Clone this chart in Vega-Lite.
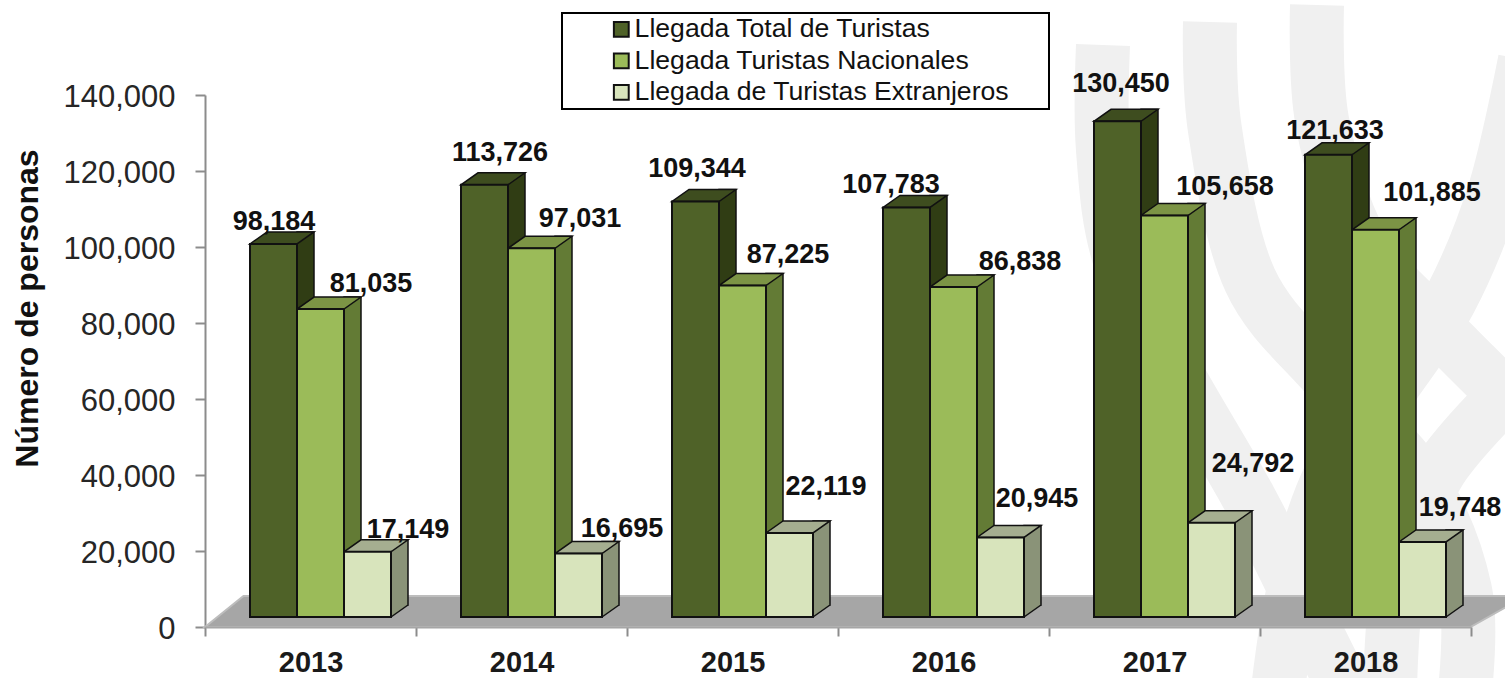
{
"$schema":"https://vega.github.io/schema/vega-lite/v6.json",
"width":1266,"height":532,
"autosize":{"type":"none"},
"padding":{"left":205,"top":95,"right":34,"bottom":51},
"background":"white",
"config":{"view":{"stroke":null},"font":"Liberation Sans","legend":{"strokeWidth":2}},
"datasets":{
"bars":[
{"year":"2013","serie":"Llegada Total de Turistas","value":98184},
{"year":"2013","serie":"Llegada  Turistas Nacionales","value":81035},
{"year":"2013","serie":"Llegada de Turistas Extranjeros","value":17149},
{"year":"2014","serie":"Llegada Total de Turistas","value":113726},
{"year":"2014","serie":"Llegada  Turistas Nacionales","value":97031},
{"year":"2014","serie":"Llegada de Turistas Extranjeros","value":16695},
{"year":"2015","serie":"Llegada Total de Turistas","value":109344},
{"year":"2015","serie":"Llegada  Turistas Nacionales","value":87225},
{"year":"2015","serie":"Llegada de Turistas Extranjeros","value":22119},
{"year":"2016","serie":"Llegada Total de Turistas","value":107783},
{"year":"2016","serie":"Llegada  Turistas Nacionales","value":86838},
{"year":"2016","serie":"Llegada de Turistas Extranjeros","value":20945},
{"year":"2017","serie":"Llegada Total de Turistas","value":130450},
{"year":"2017","serie":"Llegada  Turistas Nacionales","value":105658},
{"year":"2017","serie":"Llegada de Turistas Extranjeros","value":24792},
{"year":"2018","serie":"Llegada Total de Turistas","value":121633},
{"year":"2018","serie":"Llegada  Turistas Nacionales","value":101885},
{"year":"2018","serie":"Llegada de Turistas Extranjeros","value":19748}
],
"ribbons":[
{"r":"a","i":1,"px":1103,"py":45},{"r":"a","i":2,"px":1103,"py":150},{"r":"a","i":3,"px":1120,"py":260},{"r":"a","i":4,"px":1175,"py":370},{"r":"a","i":5,"px":1250,"py":500},{"r":"a","i":6,"px":1310,"py":620},{"r":"a","i":7,"px":1345,"py":690},
{"r":"b","i":1,"px":1210,"py":22},{"r":"b","i":2,"px":1215,"py":130},{"r":"b","i":3,"px":1250,"py":280},{"r":"b","i":4,"px":1330,"py":380},{"r":"b","i":5,"px":1420,"py":480},{"r":"b","i":6,"px":1465,"py":590},{"r":"b","i":7,"px":1465,"py":690},
{"r":"c","i":1,"px":1317,"py":5},{"r":"c","i":2,"px":1322,"py":120},{"r":"c","i":3,"px":1360,"py":240},{"r":"c","i":4,"px":1430,"py":320},{"r":"c","i":5,"px":1520,"py":410},
{"r":"d","i":1,"px":1525,"py":60},{"r":"d","i":2,"px":1495,"py":190},{"r":"d","i":3,"px":1450,"py":300},{"r":"d","i":4,"px":1390,"py":390},{"r":"d","i":5,"px":1330,"py":476},{"r":"d","i":6,"px":1295,"py":584},{"r":"d","i":7,"px":1278,"py":690},
{"r":"e","i":1,"px":1520,"py":380},{"r":"e","i":2,"px":1440,"py":470},{"r":"e","i":3,"px":1400,"py":570},{"r":"e","i":4,"px":1390,"py":690}
]},
"resolve":{"scale":{"x":"independent","y":"independent"}},
"layer":[
{"data":{"name":"ribbons"},
 "mark":{"type":"line","interpolate":"cardinal","stroke":"#f0f0f0","strokeWidth":54,"strokeCap":"butt","clip":false},
 "encoding":{
  "x":{"field":"px","type":"quantitative","axis":null,"scale":{"domain":[205,1471],"nice":false,"zero":false}},
  "y":{"field":"py","type":"quantitative","axis":null,"scale":{"domain":[627,95],"nice":false,"zero":false}},
  "detail":{"field":"r"},
  "order":{"field":"i","type":"quantitative"}}},
{"data":{"name":"bars"},
 "encoding":{
  "x":{"field":"year","type":"nominal","title":null,
   "scale":{"paddingInner":0,"paddingOuter":0},
   "axis":{"zindex":1,"labelAngle":0,"labelFontSize":29,"labelFontWeight":"bold","labelColor":"#1a1a1a","labelPadding":12,"tickBand":"extent","tickSize":9,"tickColor":"#8c8c8c","tickWidth":2,"domainColor":"#a6a6a6","domainWidth":2,"grid":false,"labelOverlap":false,"labelBound":false,"labelFlush":false}},
  "y":{"field":"value","type":"quantitative","scale":{"domain":[0,140000],"nice":false},"title":"Número de personas",
   "axis":{"values":[0,20000,40000,60000,80000,100000,120000,140000],"format":",d","labelFontSize":31,"labelColor":"#262626","labelPadding":20,"labelOffset":2,"tickSize":10,"tickColor":"#8c8c8c","tickWidth":2,"domainColor":"#8c8c8c","domainWidth":2,"grid":false,"titleFontSize":32,"titleFontWeight":"bold","titleColor":"#111111","titleX":-178,"titleY":213,"titleAngle":-90,"titleAlign":"center","titleBaseline":"middle"}}
 },
 "layer":[
  {"transform":[{"filter":"datum.year=='2013' && datum.serie=='Llegada Total de Turistas'"}],
   "mark":{"type":"point","filled":true,"size":4,"shape":"M-105.5,0L-67,-31L1215,-31L1160,0Z","fill":"#a6a6a6","stroke":"#bdbdbd","strokeWidth":2,"opacity":1},
   "encoding":{"y":{"datum":0}}},

  {"transform":[{"filter":"datum.serie=='Llegada Total de Turistas'"}],"mark":{"type":"bar","width":17,"xOffset":-5,"yOffset":-22,"fill":"#303d14","stroke":"#111","strokeWidth":1.5}},
  {"transform":[{"filter":"datum.serie=='Llegada  Turistas Nacionales'"}],"mark":{"type":"bar","width":17,"xOffset":42,"yOffset":-22,"fill":"#637b35","stroke":"#111","strokeWidth":1.5}},
  {"transform":[{"filter":"datum.serie=='Llegada de Turistas Extranjeros'"}],"mark":{"type":"bar","width":17,"xOffset":89,"yOffset":-22,"fill":"#8a9378","stroke":"#111","strokeWidth":1.5}},

  {"transform":[{"filter":"datum.serie=='Llegada Total de Turistas'"}],"mark":{"type":"point","filled":true,"size":4,"shape":"M-23.5,0L23.5,0L40.5,-12L-6.5,-12Z","xOffset":-37,"yOffset":-10,"fill":"#3e4d1f","stroke":"#111","strokeWidth":1.5,"opacity":1}},
  {"transform":[{"filter":"datum.serie=='Llegada  Turistas Nacionales'"}],"mark":{"type":"point","filled":true,"size":4,"shape":"M-23.5,0L23.5,0L40.5,-12L-6.5,-12Z","xOffset":10,"yOffset":-10,"fill":"#7c9445","stroke":"#111","strokeWidth":1.5,"opacity":1}},
  {"transform":[{"filter":"datum.serie=='Llegada de Turistas Extranjeros'"}],"mark":{"type":"point","filled":true,"size":4,"shape":"M-23.5,0L23.5,0L40.5,-12L-6.5,-12Z","xOffset":57,"yOffset":-10,"fill":"#a5ae90","stroke":"#111","strokeWidth":1.5,"opacity":1}},

  {"transform":[{"filter":"datum.serie=='Llegada de Turistas Extranjeros'"}],"mark":{"type":"point","filled":true,"size":4,"shape":"M23.5,0L39.8,-11.5L39.8,-13L23.5,-13Z","xOffset":57,"yOffset":-10,"fill":"#8a9378","strokeWidth":0,"opacity":1},"encoding":{"y":{"datum":0}}},
  {"transform":[{"filter":"datum.serie=='Llegada de Turistas Extranjeros'"}],"mark":{"type":"point","filled":false,"size":4,"shape":"M23.5,0L40.5,-12","xOffset":57,"yOffset":-10,"stroke":"#111","strokeWidth":1.5,"opacity":1},"encoding":{"y":{"datum":0}}},

  {"transform":[{"filter":"datum.serie=='Llegada Total de Turistas'"}],"mark":{"type":"bar","width":47,"xOffset":-37,"yOffset":-10,"stroke":"#111","strokeWidth":2},
   "encoding":{"fill":{"field":"serie","type":"nominal","scale":{"domain":["Llegada Total de Turistas","Llegada  Turistas Nacionales","Llegada de Turistas Extranjeros"],"range":["#4f6228","#9bbb59","#d8e4bc"]},
    "legend":{"title":" ","titleOrient":"right","titlePadding":37,"titleOpacity":0,"orient":"none","legendX":357,"legendY":-82,"direction":"vertical","padding":3,"fillColor":"white","strokeColor":"black","symbolType":"square","symbolSize":220,"symbolStrokeColor":"#111","symbolStrokeWidth":2,"symbolOffset":43,"labelFontSize":26.6,"labelColor":"#111","labelLimit":500,"labelOffset":0,"rowPadding":4.5}}}},
  {"transform":[{"filter":"datum.serie=='Llegada  Turistas Nacionales'"}],"mark":{"type":"bar","width":47,"xOffset":10,"yOffset":-10,"stroke":"#111","strokeWidth":2},
   "encoding":{"fill":{"field":"serie","type":"nominal"}}},
  {"transform":[{"filter":"datum.serie=='Llegada de Turistas Extranjeros'"}],"mark":{"type":"bar","width":47,"xOffset":57,"yOffset":-10,"stroke":"#111","strokeWidth":2},
   "encoding":{"fill":{"field":"serie","type":"nominal"}}},

  {"transform":[{"filter":"datum.value==98184"}],"mark":{"type":"text","text":"98,184","fontSize":27,"fontWeight":"bold","dx":-36.5,"dy":-32,"fill":"#111"}},
  {"transform":[{"filter":"datum.value==81035"}],"mark":{"type":"text","text":"81,035","fontSize":27,"fontWeight":"bold","dx":60.5,"dy":-35,"fill":"#111"}},
  {"transform":[{"filter":"datum.value==17149"}],"mark":{"type":"text","text":"17,149","fontSize":27,"fontWeight":"bold","dx":97.5,"dy":-32,"fill":"#111"}},
  {"transform":[{"filter":"datum.value==113726"}],"mark":{"type":"text","text":"113,726","fontSize":27,"fontWeight":"bold","dx":-21.5,"dy":-42,"fill":"#111"}},
  {"transform":[{"filter":"datum.value==97031"}],"mark":{"type":"text","text":"97,031","fontSize":27,"fontWeight":"bold","dx":58.5,"dy":-39,"fill":"#111"}},
  {"transform":[{"filter":"datum.value==16695"}],"mark":{"type":"text","text":"16,695","fontSize":27,"fontWeight":"bold","dx":100.5,"dy":-35,"fill":"#111"}},
  {"transform":[{"filter":"datum.value==109344"}],"mark":{"type":"text","text":"109,344","fontSize":27,"fontWeight":"bold","dx":-35.5,"dy":-42.5,"fill":"#111"}},
  {"transform":[{"filter":"datum.value==87225"}],"mark":{"type":"text","text":"87,225","fontSize":27,"fontWeight":"bold","dx":55.5,"dy":-40.5,"fill":"#111"}},
  {"transform":[{"filter":"datum.value==22119"}],"mark":{"type":"text","text":"22,119","fontSize":27,"fontWeight":"bold","dx":93.5,"dy":-56,"fill":"#111"}},
  {"transform":[{"filter":"datum.value==107783"}],"mark":{"type":"text","text":"107,783","fontSize":27,"fontWeight":"bold","dx":-52.5,"dy":-32.4,"fill":"#111"}},
  {"transform":[{"filter":"datum.value==86838"}],"mark":{"type":"text","text":"86,838","fontSize":27,"fontWeight":"bold","dx":76.5,"dy":-35,"fill":"#111"}},
  {"transform":[{"filter":"datum.value==20945"}],"mark":{"type":"text","text":"20,945","fontSize":27,"fontWeight":"bold","dx":93.5,"dy":-48,"fill":"#111"}},
  {"transform":[{"filter":"datum.value==130450"}],"mark":{"type":"text","text":"130,450","fontSize":27,"fontWeight":"bold","dx":-33.5,"dy":-47,"fill":"#111"}},
  {"transform":[{"filter":"datum.value==105658"}],"mark":{"type":"text","text":"105,658","fontSize":27,"fontWeight":"bold","dx":70.5,"dy":-38.5,"fill":"#111"}},
  {"transform":[{"filter":"datum.value==24792"}],"mark":{"type":"text","text":"24,792","fontSize":27,"fontWeight":"bold","dx":98.5,"dy":-69,"fill":"#111"}},
  {"transform":[{"filter":"datum.value==121633"}],"mark":{"type":"text","text":"121,633","fontSize":27,"fontWeight":"bold","dx":-30.5,"dy":-34,"fill":"#111"}},
  {"transform":[{"filter":"datum.value==101885"}],"mark":{"type":"text","text":"101,885","fontSize":27,"fontWeight":"bold","dx":66.5,"dy":-47,"fill":"#111"}},
  {"transform":[{"filter":"datum.value==19748"}],"mark":{"type":"text","text":"19,748","fontSize":27,"fontWeight":"bold","dx":94.5,"dy":-44,"fill":"#111"}}
 ]}
]}
